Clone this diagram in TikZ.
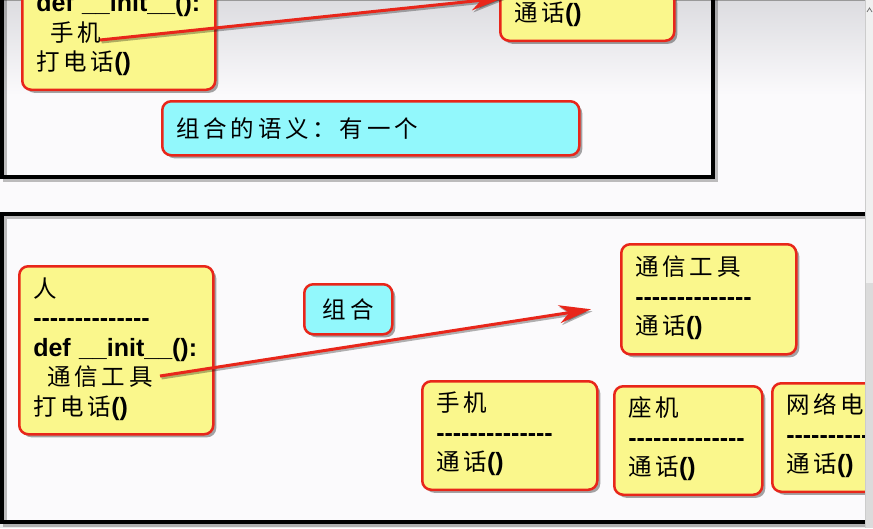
\documentclass[tikz,border=0pt]{standalone}
\usepackage{fontspec}
\setmainfont{Liberation Sans}
\newfontfamily\cjk[Scale=0.94,LetterSpace=16]{Noto Sans CJK SC}
\usetikzlibrary{arrows.meta,shadows,calc}
\definecolor{boxred}{HTML}{E8261A}
\definecolor{classyellow}{HTML}{FAF78C}
\definecolor{notecyan}{HTML}{92F8FC}
\definecolor{pagegray}{HTML}{DCDCE0}
\definecolor{paper}{HTML}{FBFAFC}
\newcommand\zh[1]{{\cjk\mdseries #1}}
\newcommand\sepline{-{}-{}-{}-{}-{}-{}-{}-{}-{}-{}-{}-{}-{}-}
\newcommand\boxfont{\bfseries\fontsize{25pt}{29.5pt}\selectfont}
\begin{document}
\begin{tikzpicture}[x=1pt,y=-1pt,
  classbox/.style={draw=boxred, line width=2.5pt, fill=classyellow,
    rounded corners=9pt, inner xsep=14pt, inner ysep=10pt, align=left,
    font=\boxfont, text=black,
    drop shadow={shadow xshift=3pt,shadow yshift=-3pt,opacity=0.35,fill=black}},
  notebox/.style={classbox, fill=notecyan},
  frame/.style={draw=black, line width=4pt},
  frameshade/.style={draw=black, opacity=0.25, line width=4pt},
  relarrow/.style={draw=boxred, line width=3pt,
    -{Stealth[length=32pt,width=18pt,inset=10pt]}},
  arrowshade/.style={relarrow, draw=black, opacity=0.3,
    transform canvas={shift={(1.5pt,-2pt)}}}]
  \useasboundingbox (0,0) rectangle (873,528);
  \clip (0,0) rectangle (873,528);
  % page background
  \fill[paper] (0,0) rectangle (873,528);
  \shade[top color=pagegray, bottom color=paper] (0,0) rectangle (865,95);
  \fill[black!8] (0,524) rectangle (873,528);
  \draw[black!40, line width=2pt] (0,0) -- (865,0);
  % upper slide
  \draw[frameshade] (5,-5) |- (716,180) -- (716,-5);
  \draw[frame] (2,-5) |- (713,177) -- (713,-5);
  \node[classbox, text width=165pt, anchor=south west] (oldPerson) at (21,91)
    {def \_\_init\_\_():\strut\\ \hspace*{14pt}\zh{手机}\strut\\ \zh{打电话}()\strut};
  \node[classbox, text width=146pt, anchor=south west] (oldTool) at (499,42)
    {\zh{通话}()\strut};
  \node[notebox, text width=389pt, minimum height=54pt, anchor=north west]
    (semantics) at (161,100) {\zh{组合的语义：有一个}};
  \coordinate (hasPhone) at (100,40);
  \coordinate (phoneTip) at (503,-2);
  \draw[arrowshade] (hasPhone) -- (phoneTip);
  \draw[relarrow] (hasPhone) -- (phoneTip);
  % lower slide
  \draw[frameshade] (5,216.5) rectangle (900,524.5);
  \draw[frame] (2,213.5) rectangle (900,521.5);
  \node[classbox, text width=166pt, minimum height=168pt, anchor=north west]
    (person) at (18,265)
    {\zh{人}\strut\\ \sepline\strut\\ def \_\_init\_\_():\strut\\
     \hspace*{14pt}\zh{通信工具}\strut\\ \zh{打电话}()\strut};
  \node[notebox, minimum width=88pt, minimum height=50pt, anchor=north west,
    inner xsep=8pt] (compose) at (303,283) {\zh{组合}};
  \node[classbox, text width=147pt, minimum height=110pt, anchor=north west]
    (tool) at (620,243) {\zh{通信工具}\strut\\ \sepline\strut\\ \zh{通话}()\strut};
  \node[classbox, text width=147pt, minimum height=108pt, anchor=north west]
    (mobile) at (421,380) {\zh{手机}\strut\\ \sepline\strut\\ \zh{通话}()\strut};
  \node[classbox, text width=120pt, minimum height=107pt, anchor=north west]
    (landline) at (613,385) {\zh{座机}\strut\\ \sepline\strut\\ \zh{通话}()\strut};
  \node[classbox, text width=142pt, minimum height=108pt, anchor=north west]
    (netphone) at (771,382) {\zh{网络电}\strut\\ \sepline\strut\\ \zh{通话}()\strut};
  \coordinate (hasTool) at (160,376);
  \coordinate (toolTip) at ($(tool.west)+(-29,10)$);
  \draw[arrowshade] (hasTool) -- (toolTip);
  \draw[relarrow] (hasTool) -- (toolTip);
  % scroll bar
  \fill[black!6] (865,0) rectangle (873,283);
  \fill[black!14] (865,283) rectangle (873,528);
  \draw[black!20, line width=0.6pt] (865,0) -- (865,528);
  \draw[black!55, line width=0.8pt] (867,12) -- (869.5,8) -- (872,12);
\end{tikzpicture}
\end{document}
